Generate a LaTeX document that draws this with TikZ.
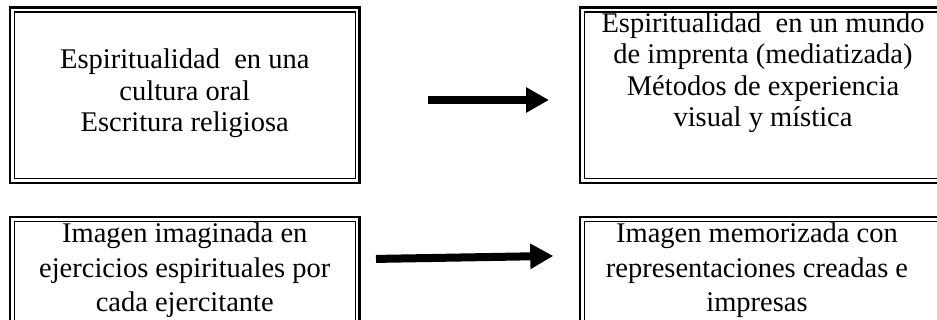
\documentclass[tikz,border=0pt]{standalone}
\usepackage{fontspec}
\setmainfont{Liberation Serif}
\usetikzlibrary{calc}
\usetikzlibrary{arrows.meta}
\newcommand{\frmlwo}{2.6pt}
\newcommand{\frmlwi}{1.3pt}
\newcommand{\frmins}{4.2}
\newcommand{\frmxa}{184.75}
\newcommand{\frmxb}{763}
\newcommand{\frmya}{95.4}
\newcommand{\frmyb}{288.6}
\newcommand{\frmwa}{349.5pt}
\newcommand{\frmwb}{366pt}
\newcommand{\frmha}{175.2pt}
\newcommand{\frmhb}{142.8pt}

\begin{document}
\begin{tikzpicture}[x=1pt,y=-1pt,
    dblframe/.style={draw,line width=\frmlwo,outer sep=0pt,inner sep=0pt},
    innerframe/.style={line width=\frmlwi},
    boxtext/.style={anchor=base,align=center,inner sep=0pt,
      font=\fontsize{28.5}{31.5}\selectfont},
    lowtext/.style={boxtext,font=\fontsize{28.5}{34.5}\selectfont},
    flow/.style={line width=8pt,-{Triangle[length=23pt,width=24pt]}}]
    \useasboundingbox (0,0) rectangle (937,320);

    \node[dblframe,minimum width=\frmwa,minimum height=\frmha]
      (tlbox) at (\frmxa,\frmya) {};
    \node[dblframe,minimum width=\frmwb,minimum height=\frmha]
      (trbox) at (\frmxb,\frmya) {};
    \node[dblframe,minimum width=\frmwa,minimum height=\frmhb]
      (blbox) at (\frmxa,\frmyb) {};
    \node[dblframe,minimum width=\frmwb,minimum height=\frmhb]
      (brbox) at (\frmxb,\frmyb) {};

    \foreach \b in {tlbox,trbox,blbox,brbox}
      \draw[innerframe] ([shift={(\frmins,\frmins)}]\b.north west)
        rectangle ([shift={(-\frmins,-\frmins)}]\b.south east);

    % base sits on the last line of each text
    \node[boxtext] (tltext) at ($(tlbox.north)+(0,124)$)
      {Espiritualidad\ \ en una\\cultura oral\\Escritura religiosa};
    \node[boxtext] (trtext) at ($(trbox.north)+(0,119.2)$)
      {Espiritualidad\ \ en un mundo\\de imprenta (mediatizada)\\
       Métodos de experiencia\\visual y mística};
    \node[lowtext] (bltext) at ($(blbox.north)+(0,94.5)$)
      {Imagen imaginada en\\ejercicios espirituales por\\cada ejercitante};
    \node[lowtext] (brtext) at ($(brbox.north)+(-6,94.5)$)
      {Imagen memorizada con\\representaciones creadas e\\impresas};

    \draw[flow,shorten <=68.5pt,shorten >=31pt]
      ([yshift=-4.6pt]tlbox.east) -- ([yshift=-4.6pt]trbox.west);
    \draw[flow,shorten <=16.5pt,shorten >=26.7pt]
      ([yshift=29.4pt]blbox.east) -- ([yshift=33.1pt]brbox.west);
\end{tikzpicture}
\end{document}
